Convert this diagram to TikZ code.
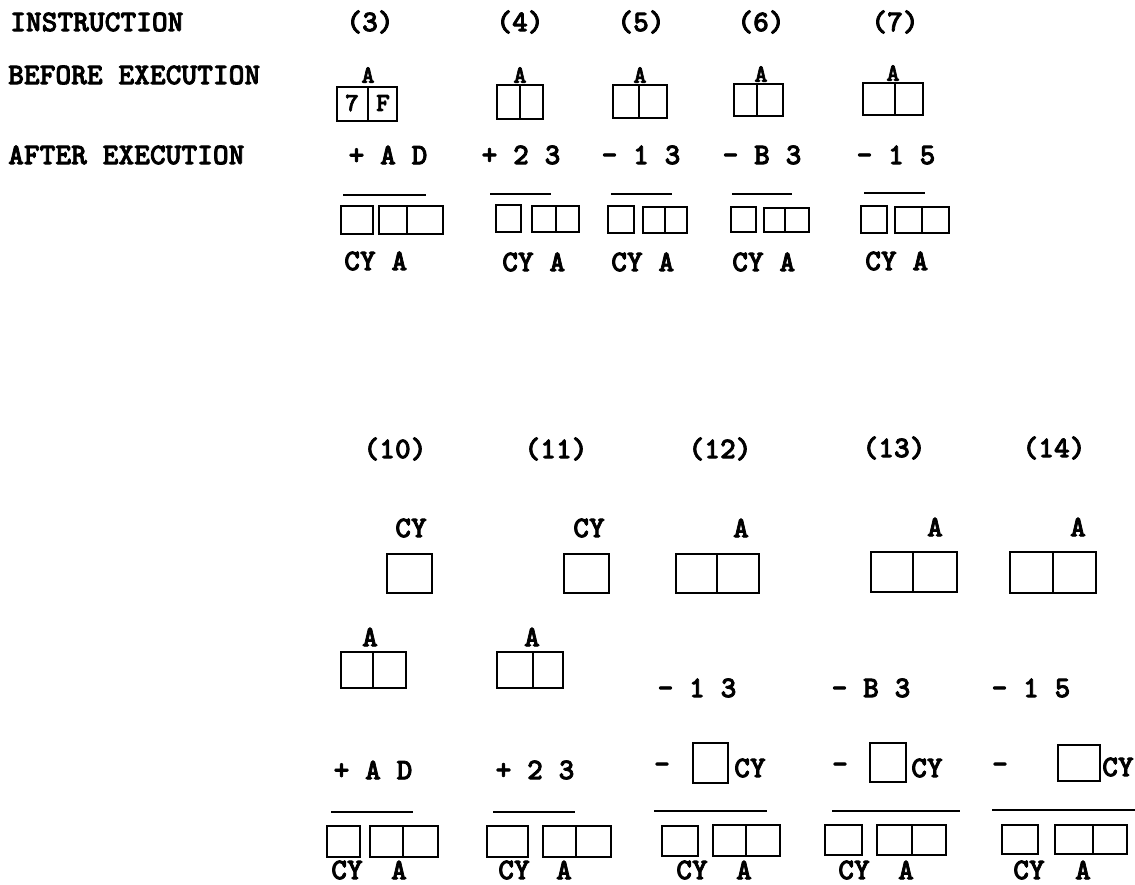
\documentclass[tikz,border=0pt]{standalone}
\usepackage{fontspec}
\setmonofont{lmmonolt10-bold.otf}[FakeBold=2.5]
\usepackage{tikz}

\tikzset{
  reg/.style={draw, line width=1.5pt},
  rule/.style={line width=1.5pt},
  txt/.style={inner sep=0pt, font=\ttfamily\bfseries\fontsize{30}{33}\selectfont},
  lab/.style={inner sep=0pt, font=\ttfamily\bfseries\fontsize{25}{28}\selectfont},
  dig/.style={inner sep=0pt, font=\ttfamily\bfseries\fontsize{26}{28}\selectfont}
}

\begin{document}
\begin{tikzpicture}[x=1pt, y=-1pt]
  \useasboundingbox (0,0) rectangle (1135,885);
  % row headings
  \node[txt, anchor=west] (instr) at (10,22) {INSTRUCTION};
  \node[txt, anchor=west] (before) at (8,75) {BEFORE EXECUTION};
  \node[txt, anchor=west] (after) at (8,155) {AFTER EXECUTION};

  % upper row: (3) ... (7)
  \node[txt] (t3) at (370,22) {(3)};
  \node[txt] (t4) at (520,22) {(4)};
  \node[txt] (t5) at (641,22) {(5)};
  \node[txt] (t6) at (761,22) {(6)};
  \node[txt] (t7) at (895,22) {(7)};

  \node[lab] (a3) at (368,75) {A};
  \node[lab] (a4) at (520,75) {A};
  \node[lab] (a5) at (640,75) {A};
  \node[lab] (a6) at (761,74) {A};
  \node[lab] (a7) at (893,73) {A};

  \draw[reg] (337,87) rectangle (397,121) (368,87) -- (368,121);
  \node[dig] (hi3) at (352,103) {7};
  \node[dig] (lo3) at (383,103) {F};
  \draw[reg] (497,85) rectangle (543,119) (520,85) -- (520,119);
  \draw[reg] (613,85) rectangle (667,118) (639,85) -- (639,118);
  \draw[reg] (734,84) rectangle (783,116) (757,84) -- (757,116);
  \draw[reg] (863,83) rectangle (923,115) (895,83) -- (895,115);

  \node[txt] (op3) at (388,155) {+ A D};
  \node[txt] (op4) at (521,155) {+ 2 3};
  \node[txt] (op5) at (641,155) {- 1 3};
  \node[txt] (op6) at (762,155) {- B 3};
  \node[txt] (op7) at (896,155) {- 1 5};

  \draw[rule] (343,195) -- (426,195);
  \draw[rule] (490,194) -- (551,194);
  \draw[rule] (611,194) -- (672,194);
  \draw[rule] (732,194) -- (792,194);
  \draw[rule] (864,193) -- (925,193);

  \draw[reg] (341,206) rectangle (373,234);
  \draw[reg] (379,206) rectangle (443,234) (407,206) -- (407,234);
  \draw[reg] (496,205) rectangle (521,232);
  \draw[reg] (532,206) rectangle (579,232) (556,206) -- (556,232);
  \draw[reg] (608,206) rectangle (634,233);
  \draw[reg] (643,207) rectangle (687,233) (665,207) -- (665,233);
  \draw[reg] (731,207) rectangle (756,232);
  \draw[reg] (764,208) rectangle (809,232) (785,208) -- (785,232);
  \draw[reg] (861,206) rectangle (887,233);
  \draw[reg] (895,207) rectangle (949,233) (922,207) -- (922,233);

  \node[txt, anchor=west] (r3) at (344,261) {CY A};
  \node[txt, anchor=west] (r4) at (502,262) {CY A};
  \node[txt, anchor=west] (r5) at (611,262) {CY A};
  \node[txt, anchor=west] (r6) at (732,262) {CY A};
  \node[txt, anchor=west] (r7) at (865,261) {CY A};

  % lower row: (10) ... (14)
  \node[txt] (t10) at (395,449) {(10)};
  \node[txt] (t11) at (556,449) {(11)};
  \node[txt] (t12) at (720,449) {(12)};
  \node[txt] (t13) at (894,448) {(13)};
  \node[txt] (t14) at (1054,448) {(14)};

  \node[txt] (c10) at (411,528) {CY};
  \node[txt] (c11) at (589,528) {CY};
  \node[txt] (a12) at (741,528) {A};
  \node[txt] (a13) at (935,527) {A};
  \node[txt] (a14) at (1078,527) {A};

  \draw[reg] (387,554) rectangle (432,593);
  \draw[reg] (564,554) rectangle (609,593);
  \draw[reg] (676,554) rectangle (759,593) (717,554) -- (717,593);
  \draw[reg] (871,552) rectangle (957,592) (913,552) -- (913,592);
  \draw[reg] (1010,552) rectangle (1096,593) (1053,552) -- (1053,593);

  \node[txt] (a10) at (370,637) {A};
  \node[txt] (a11) at (532,637) {A};
  \draw[reg] (341,652) rectangle (406,688) (373,652) -- (373,688);
  \draw[reg] (497,652) rectangle (563,688) (533,652) -- (533,688);

  \node[txt] (op12) at (697,688) {- 1 3};
  \node[txt] (op13) at (871,688) {- B 3};
  \node[txt] (op14) at (1031,688) {- 1 5};

  \node[txt] (op10) at (373,770) {+ A D};
  \node[txt] (op11) at (535,770) {+ 2 3};

  \node[txt] (m12) at (662,768) {-};
  \draw[reg] (693,743) rectangle (728,783);
  \node[txt, anchor=west] (s12) at (734,768) {CY};
  \node[txt] (m13) at (840,768) {-};
  \draw[reg] (870,743) rectangle (906,782);
  \node[txt, anchor=west] (s13) at (911,768) {CY};
  \node[txt] (m14) at (1000,768) {-};
  \draw[reg] (1058,745) rectangle (1100,781);
  \node[txt, anchor=west] (s14) at (1102,767) {CY};

  \draw[rule] (331,812) -- (413,812);
  \draw[rule] (493,812) -- (575,812);
  \draw[rule] (654,811) -- (767,811);
  \draw[rule] (832,811) -- (960,811);
  \draw[rule] (992,810) -- (1135,810);

  \draw[reg] (327,826) rectangle (360,857);
  \draw[reg] (370,826) rectangle (438,857) (403,826) -- (403,857);
  \draw[reg] (487,826) rectangle (528,857);
  \draw[reg] (543,826) rectangle (611,857) (576,826) -- (576,857);
  \draw[reg] (662,826) rectangle (698,856);
  \draw[reg] (713,825) rectangle (780,856) (746,825) -- (746,856);
  \draw[reg] (825,825) rectangle (862,855);
  \draw[reg] (877,825) rectangle (946,855) (912,825) -- (912,855);
  \draw[reg] (1002,825) rectangle (1038,854);
  \draw[reg] (1055,825) rectangle (1127,854) (1093,825) -- (1093,854);

  \node[txt] (y10) at (347,870) {CY};
  \node[txt] (b10) at (399,870) {A};
  \node[txt] (y11) at (514,870) {CY};
  \node[txt] (b11) at (564,870) {A};
  \node[txt] (y12) at (692,870) {CY};
  \node[txt] (b12) at (744,870) {A};
  \node[txt] (y13) at (854,870) {CY};
  \node[txt] (b13) at (906,870) {A};
  \node[txt] (y14) at (1029,870) {CY};
  \node[txt] (b14) at (1083,870) {A};
\end{tikzpicture}
\end{document}
